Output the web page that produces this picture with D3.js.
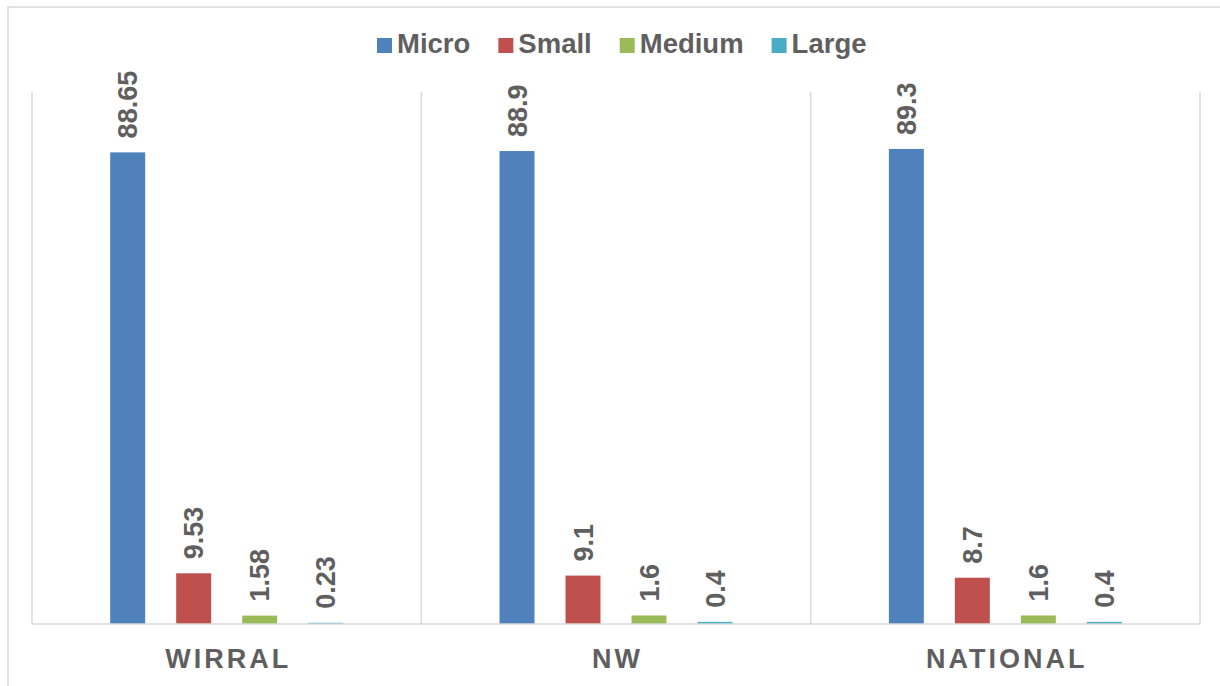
<!DOCTYPE html>
<html>
<head>
<meta charset="utf-8">
<script src="https://cdn.jsdelivr.net/npm/d3@7"></script>
<style>
  html, body { margin: 0; padding: 0; background: #ffffff; }
  svg { display: block; font-family: "Liberation Sans", Arial, sans-serif; }
</style>
</head>
<body>
<svg id="chart" width="1220" height="686"></svg>
<script>
// Business size shares (%) by area
const areas = ["WIRRAL", "NW", "NATIONAL"];
const sizes = ["Micro", "Small", "Medium", "Large"];
const micro  = [88.65, 88.9, 89.3];
const small  = [9.53, 9.1, 8.7];
const medium = [1.58, 1.6, 1.6];
const large  = [0.23, 0.4, 0.4];
const yTicks = [0, 100];

const colors = ["#4F81BD", "#C0504D", "#9BBB59", "#4BACC6"];
const seriesValues = [micro, small, medium, large];

const rows = [];
areas.forEach((a, i) => {
  sizes.forEach((s, j) => rows.push({ area: a, size: s, value: seriesValues[j][i] }));
});

const svg = d3.select("#chart");
const plot = { left: 32, right: 1200, top: 92, bottom: 624 };
const textColor = "#5f5f5f";
const lineColor = "#d9d9d9";

// chart frame
svg.append("rect")
  .attr("x", 8).attr("y", 7)
  .attr("width", 1240).attr("height", 700)
  .attr("fill", "none").attr("stroke", lineColor).attr("stroke-width", 1.5);

const x = d3.scaleBand().domain(areas).range([plot.left, plot.right]).padding(0);
const xInner = d3.scaleBand().domain(sizes).range([0, x.bandwidth()])
  .paddingInner(0.47).paddingOuter(1.185);
const y = d3.scaleLinear().domain(d3.extent(yTicks)).range([plot.bottom, plot.top]);
const color = d3.scaleOrdinal().domain(sizes).range(colors);

// category separators
const seps = areas.map(a => x(a)).concat([x(areas[areas.length - 1]) + x.bandwidth()]);
svg.append("g").selectAll("line").data(seps).join("line")
  .attr("x1", d => d).attr("x2", d => d)
  .attr("y1", y(100)).attr("y2", y(0))
  .attr("stroke", lineColor).attr("stroke-width", 1.5);

// bars
svg.append("g").selectAll("rect").data(rows).join("rect")
  .attr("x", d => x(d.area) + xInner(d.size))
  .attr("width", xInner.bandwidth())
  .attr("y", d => y(d.value))
  .attr("height", d => y(0) - y(d.value))
  .attr("fill", d => color(d.size));

// x axis baseline
svg.append("line")
  .attr("x1", plot.left).attr("x2", plot.right)
  .attr("y1", y(0)).attr("y2", y(0))
  .attr("stroke", lineColor).attr("stroke-width", 1.5);

// value labels, rotated
svg.append("g").selectAll("text").data(rows).join("text")
  .attr("transform", d => {
    const cx = x(d.area) + xInner(d.size) + xInner.bandwidth() / 2;
    return `translate(${cx},${y(d.value) - 14}) rotate(-90)`;
  })
  .attr("dy", "0.36em")
  .attr("text-anchor", "start")
  .attr("font-size", 27).attr("font-weight", "bold")
  .attr("fill", textColor)
  .text(d => String(d.value));

// category labels
svg.append("g").selectAll("text").data(areas).join("text")
  .attr("x", d => x(d) + x.bandwidth() / 2 + 1.5)
  .attr("y", 668)
  .attr("text-anchor", "middle")
  .attr("font-size", 27).attr("font-weight", "bold")
  .attr("letter-spacing", 3)
  .attr("fill", textColor)
  .text(d => d);

// legend
const legend = svg.append("g");
let lx = 377;
sizes.forEach(s => {
  const g = legend.append("g");
  g.append("rect").attr("x", lx).attr("y", 38).attr("width", 15).attr("height", 15)
    .attr("fill", color(s));
  const t = g.append("text").attr("x", lx + 20).attr("y", 53)
    .attr("font-size", 27.5).attr("font-weight", "bold")
    .attr("fill", textColor).text(s);
  lx += 20 + t.node().getComputedTextLength() + 28;
});
</script>
</body>
</html>
